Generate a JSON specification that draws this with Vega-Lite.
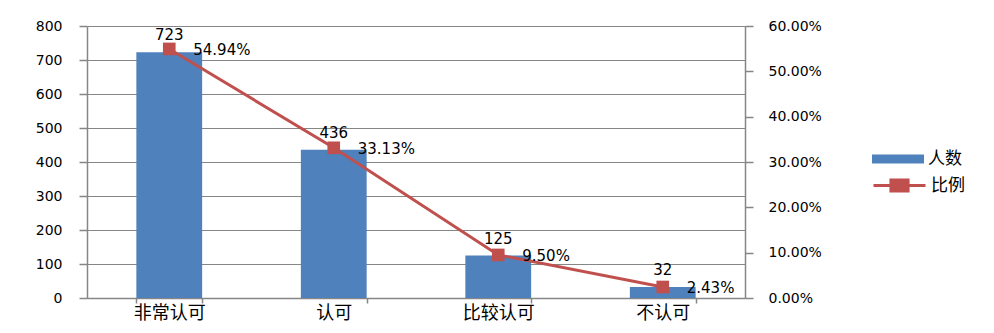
{
  "$schema": "https://vega.github.io/schema/vega-lite/v6.json",
  "autosize": {"type": "none"},
  "width": 658,
  "height": 272,
  "padding": {"left": 87, "top": 26, "right": 249, "bottom": 35},
  "background": "white",
  "config": {
    "view": {"stroke": null},
    "axis": {"labelColor": "#000000", "domainColor": "#868686", "tickColor": "#868686", "gridColor": "#868686", "gridOpacity": 1, "domainWidth": 1.5, "tickWidth": 1.5}
  },
  "data": {
    "values": [
      {"cat": "非常认可", "count": 723, "pct": 0.5494, "pctLabel": "54.94%"},
      {"cat": "认可", "count": 436, "pct": 0.3313, "pctLabel": "33.13%"},
      {"cat": "比较认可", "count": 125, "pct": 0.095, "pctLabel": "9.50%"},
      {"cat": "不认可", "count": 32, "pct": 0.0243, "pctLabel": "2.43%"}
    ]
  },
  "encoding": {
    "x": {
      "field": "cat", "type": "nominal", "sort": null, "title": null,
      "scale": {"paddingInner": 0.6, "paddingOuter": 0.3},
      "axis": {"labelAngle": 0, "labelFont": "Noto Sans CJK SC", "labelFontSize": 18, "tickBand": "extent", "tickSize": 5, "labelPadding": 1, "grid": false}
    }
  },
  "layer": [
    {
      "encoding": {
        "y": {
          "field": "count", "type": "quantitative", "title": null,
          "scale": {"domain": [0, 800], "nice": false},
          "axis": {"values": [0, 100, 200, 300, 400, 500, 600, 700, 800], "grid": true, "tickSize": 8, "labelPadding": 17, "labelFont": "DejaVu Sans", "labelFontSize": 14}
        }
      },
      "layer": [
        {
          "mark": {"type": "bar"},
          "encoding": {
            "fill": {
              "datum": "人数", "type": "nominal", "title": null,
              "scale": {"domain": ["人数"], "range": ["#4F81BD"]},
              "legend": {"orient": "none", "legendX": 785, "legendY": 107, "symbolType": "M-1,-0.17H1V0.17H-1Z", "symbolSize": 2704, "symbolStrokeWidth": 0, "labelFont": "Noto Sans CJK SC", "labelFontSize": 17, "labelColor": "#000000", "labelOffset": 4}
            }
          }
        },
        {
          "mark": {"type": "text", "baseline": "bottom", "align": "center", "dy": -9, "font": "DejaVu Sans", "fontSize": 15, "color": "#000000"},
          "encoding": {"text": {"field": "count", "type": "quantitative"}}
        }
      ]
    },
    {
      "encoding": {
        "y": {
          "field": "pct", "type": "quantitative", "title": null,
          "scale": {"domain": [0, 0.6], "nice": false},
          "axis": {"orient": "right", "values": [0, 0.1, 0.2, 0.3, 0.4, 0.5, 0.6], "format": ".2%", "grid": false, "tickSize": 8, "labelPadding": 15, "labelFont": "DejaVu Sans", "labelFontSize": 14}
        }
      },
      "layer": [
        {
          "mark": {"type": "line", "strokeWidth": 3},
          "encoding": {
            "stroke": {
              "datum": "比例", "type": "nominal", "title": null,
              "scale": {"domain": ["比例"], "range": ["#C0504D"]},
              "legend": {"orient": "none", "legendX": 785, "legendY": 132, "symbolType": "M-1,0H1M-0.33,-0.21H0.33V0.21H-0.33Z", "symbolSize": 2704, "symbolStrokeWidth": 3, "symbolFillColor": "#C0504D", "labelFont": "Noto Sans CJK SC", "labelFontSize": 17, "labelColor": "#000000", "labelOffset": 4}
            }
          }
        },
        {
          "mark": {"type": "point", "shape": "square", "size": 160, "filled": true, "opacity": 1, "color": "#C0504D"}
        },
        {
          "mark": {"type": "text", "baseline": "middle", "align": "left", "dx": 24, "dy": 1, "font": "DejaVu Sans", "fontSize": 15, "color": "#000000"},
          "encoding": {"text": {"field": "pctLabel", "type": "nominal"}}
        }
      ]
    }
  ],
  "resolve": {"scale": {"y": "independent"}}
}
